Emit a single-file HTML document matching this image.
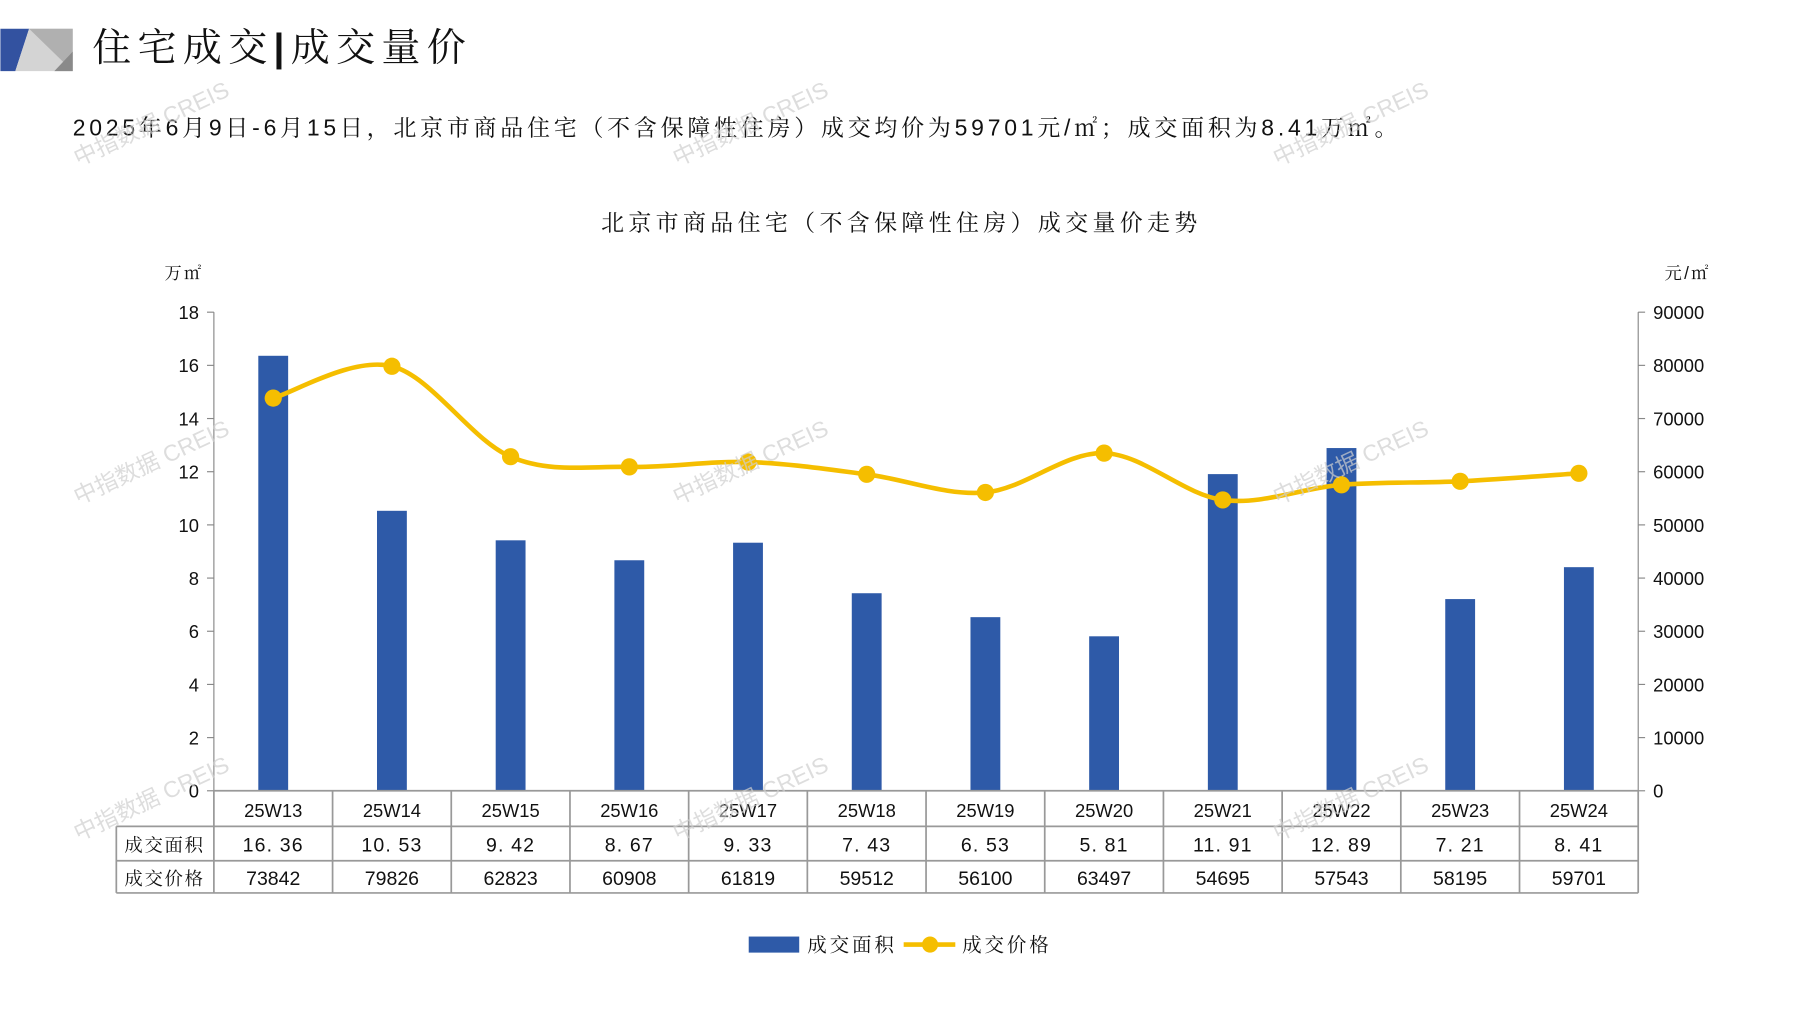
<!DOCTYPE html>
<html><head><meta charset="utf-8">
<style>
html,body{margin:0;padding:0;background:#fff;width:1797px;height:1010px;overflow:hidden}
svg{display:block}
text{font-family:"Liberation Sans","Noto Sans CJK SC",sans-serif;fill:#111}
.cjk{font-family:"Liberation Sans","Noto Serif CJK SC",serif}
</style></head><body>
<svg id="s" width="1797" height="1010" viewBox="0 0 1565 880" xmlns="http://www.w3.org/2000/svg">
<polygon points="0,25 25,25 13,62 0,62" fill="#3352A0"/>
<polygon points="25,25 63,25 63,62 13,62" fill="#d4d4d4"/>
<polygon points="25,25 63,25 63,62" fill="#b0b0b0"/>
<polygon points="63,45 63,62 47,62" fill="#8a8a8a"/>
<text x="80" y="53" font-size="34" class="cjk" letter-spacing="5.5">住宅成交<tspan font-weight="bold">|</tspan>成交量价</text>
<text x="63" y="118" font-size="20" class="cjk" letter-spacing="3.3">2025年6月9日-6月15日，北京市商品住宅（不含保障性住房）成交均价为59701元/㎡；成交面积为8.41万㎡。</text>
<text x="785" y="201" font-size="20" class="cjk" text-anchor="middle" letter-spacing="3.8">北京市商品住宅（不含保障性住房）成交量价走势</text>
<text x="143" y="243" font-size="15" class="cjk" letter-spacing="2">万㎡</text>
<text x="1450" y="243" font-size="15" class="cjk" letter-spacing="2">元/㎡</text>
<g id="g"></g>
<rect x="652" y="816" width="44" height="14" fill="#2E5AA8"/>
<text x="703" y="829" font-size="17" class="cjk" letter-spacing="2.5">成交面积</text>
<line x1="787" y1="823" x2="832" y2="823" stroke="#F5BE00" stroke-width="4"/>
<circle cx="810" cy="823" r="7" fill="#F5BE00"/>
<text x="838" y="829" font-size="17" class="cjk" letter-spacing="2.5">成交价格</text>
</svg>
<script>
const g=document.getElementById('g');const NS='http://www.w3.org/2000/svg';
function el(t,a,txt){const e=document.createElementNS(NS,t);for(const k in a)e.setAttribute(k,a[k]);if(txt!==undefined)e.textContent=txt;g.appendChild(e);return e;}
const L=186,R=1427,Y0=689,Y1=272,H=Y0-Y1;
const area=[16.36,10.53,9.42,8.67,9.33,7.43,6.53,5.81,11.91,12.89,7.21,8.41];
const price=[73842,79826,62823,60908,61819,59512,56100,63497,54695,57543,58195,59701];
const cw=(R-L)/12;
el('line',{x1:L,y1:Y1,x2:L,y2:Y0,stroke:'#888','stroke-width':1});
el('line',{x1:R,y1:Y1,x2:R,y2:Y0,stroke:'#888','stroke-width':1});
for(let i=0;i<=9;i++){const y=Y0-i*H/9;
 el('line',{x1:L-6,y1:y,x2:L,y2:y,stroke:'#888'});el('line',{x1:R,y1:y,x2:R+6,y2:y,stroke:'#888'});
 el('text',{x:173,y:y+6,'font-size':16,'text-anchor':'end'},String(i*2));
 el('text',{x:1440,y:y+6,'font-size':16},String(i*10000));}
const cx=i=>L+cw*(i+0.5);
area.forEach((v,i)=>el('rect',{x:cx(i)-13,y:Y0-v/18*H,width:26,height:v/18*H,fill:'#2E5AA8'}));
const pts=price.map((p,i)=>[cx(i),Y0-p/90000*H]);
let d='M'+pts[0][0]+','+pts[0][1];
for(let i=0;i<pts.length-1;i++){const p0=pts[i-1]||pts[i],p1=pts[i],p2=pts[i+1],p3=pts[i+2]||p2;const t=6;
 d+=` C${p1[0]+(p2[0]-p0[0])/t},${p1[1]+(p2[1]-p0[1])/t} ${p2[0]-(p3[0]-p1[0])/t},${p2[1]-(p3[1]-p1[1])/t} ${p2[0]},${p2[1]}`;}
el('path',{d:d,fill:'none',stroke:'#F5BE00','stroke-width':4});
pts.forEach(p=>el('circle',{cx:p[0],cy:p[1],r:7.5,fill:'#F5BE00'}));
const st={stroke:'#999','stroke-width':1.5};
[689,720,750,778].forEach((y,k)=>el('line',Object.assign({x1:k==0?L:101,y1:y,x2:R,y2:y},st)));
el('line',Object.assign({x1:101,y1:720,x2:101,y2:778},st));
for(let i=0;i<=12;i++)el('line',Object.assign({x1:L+cw*i,y1:689,x2:L+cw*i,y2:778},st));
el('text',{x:143,y:742,'font-size':16,'text-anchor':'middle',class:'cjk','letter-spacing':'1.5'},'成交面积');
el('text',{x:143,y:771,'font-size':16,'text-anchor':'middle',class:'cjk','letter-spacing':'1.5'},'成交价格');
for(let i=0;i<12;i++){
 el('text',{x:cx(i),y:712,'font-size':16,'text-anchor':'middle'},'25W'+(13+i));
 el('text',{x:cx(i),y:742,'font-size':17,'text-anchor':'middle','letter-spacing':'1'},area[i].toFixed(2).replace('.','. '));
 el('text',{x:cx(i),y:771,'font-size':17,'text-anchor':'middle'},String(price[i]));}
[[68,145],[590,145],[1113,145],[68,440],[590,440],[1113,440],[68,733],[590,733],[1113,733]].forEach(([x,y])=>{
 el('text',{x:x,y:y,'font-size':20,style:'fill:#cfcfcf;opacity:0.7',transform:`rotate(-25 ${x} ${y})`},'中指数据 CREIS');});
</script>
</body></html>
